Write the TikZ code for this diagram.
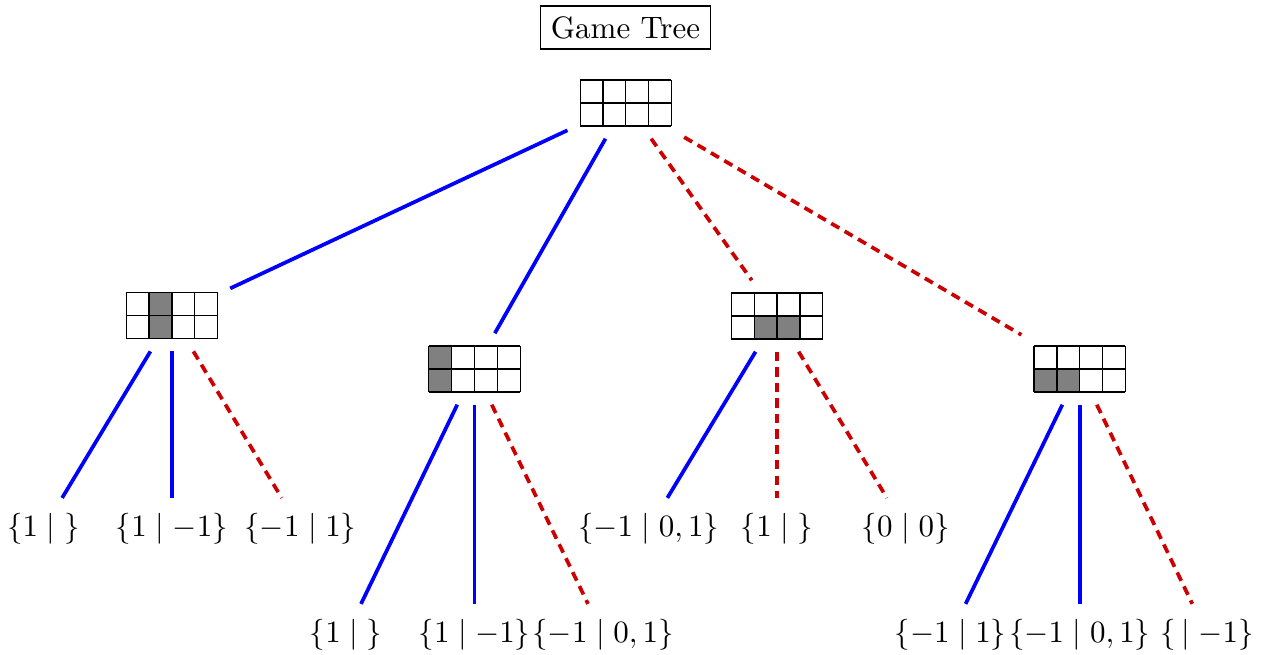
\documentclass[tikz,border=0pt]{standalone}
\begin{document}
\begin{tikzpicture}[x=0.3226pt,y=-0.3226pt,
  gridnode/.style={minimum width=29.45pt, minimum height=14.84pt, inner sep=0pt, outer sep=4.1pt},
  lbl/.style={inner sep=3.333pt, outer sep=1.7pt},
  blueedge/.style={draw=blue, very thick},
  rededge/.style={draw=red!80!black, very thick, densely dashed},
  gridline/.style={draw=black, line width=0.4pt}]
\newcommand\boardgrid[1]{%
  \begin{scope}[shift={(#1.center)}]
    \foreach \i in {0,...,4} \draw[gridline] ({-45.66+\i*22.83},-23) -- ++(0,46);
    \foreach \j in {0,1,2} \draw[gridline] (-45.66,{-23+\j*23}) -- ++(91.32,0);
  \end{scope}}
\newcommand\shadecell[3]{%
  \fill[gray, shift={(#1.center)}] ({-45.66+(#2-1)*22.83},{-23+(#3-1)*23}) rectangle ++(22.83,23);}
\useasboundingbox (0,0) rectangle (1270,655);

\node[draw, inner sep=3.333pt] (title) at (625.5,27.5) {Game Tree};

\node[gridnode] (root) at (625.8,103) {};
\node[gridnode] (A) at (171.9,315.7) {};
\node[gridnode] (B) at (474.5,369) {};
\node[gridnode] (C) at (777.1,316) {};
\node[gridnode] (D) at (1079.7,369) {};

\shadecell{A}{2}{1}\shadecell{A}{2}{2}
\shadecell{B}{1}{1}\shadecell{B}{1}{2}
\shadecell{C}{2}{2}\shadecell{C}{3}{2}
\shadecell{D}{1}{2}\shadecell{D}{2}{2}
\boardgrid{root}\boardgrid{A}\boardgrid{B}\boardgrid{C}\boardgrid{D}

\node[lbl] (a1) at (43.4,529) {$\{1\mid{}\}$};
\node[lbl] (a2) at (171.9,529) {$\{1\mid -1\}$};
\node[lbl] (a3) at (300.4,529) {$\{-1\mid 1\}$};
\node[lbl] (b1) at (346,635) {$\{1\mid{}\}$};
\node[lbl] (b2) at (474.5,635) {$\{1\mid -1\}$};
\node[lbl] (b3) at (603,635) {$\{-1\mid 0,1\}$};
\node[lbl] (c1) at (648.6,529) {$\{-1\mid 0,1\}$};
\node[lbl] (c2) at (777.1,529) {$\{1\mid{}\}$};
\node[lbl] (c3) at (905.6,529) {$\{0\mid 0\}$};
\node[lbl] (d1) at (950.5,635) {$\{-1\mid 1\}$};
\node[lbl] (d2) at (1079.7,635) {$\{-1\mid 0,1\}$};
\node[lbl] (d3) at (1207.2,635) {$\{\,\mid -1\}$};

\draw[blueedge] (root) -- (A);
\draw[blueedge] (root) -- (B);
\draw[rededge] (root) -- (C);
\draw[rededge] (root) -- (D);
\draw[blueedge] (A) -- (a1);
\draw[blueedge] (A) -- (a2);
\draw[rededge] (A) -- (a3);
\draw[blueedge] (B) -- (b1);
\draw[blueedge] (B) -- (b2);
\draw[rededge] (B) -- (b3);
\draw[blueedge] (C) -- (c1);
\draw[rededge] (C) -- (c2);
\draw[rededge] (C) -- (c3);
\draw[blueedge] (D) -- (d1);
\draw[blueedge] (D) -- (d2);
\draw[rededge] (D) -- (d3);
\end{tikzpicture}
\end{document}
